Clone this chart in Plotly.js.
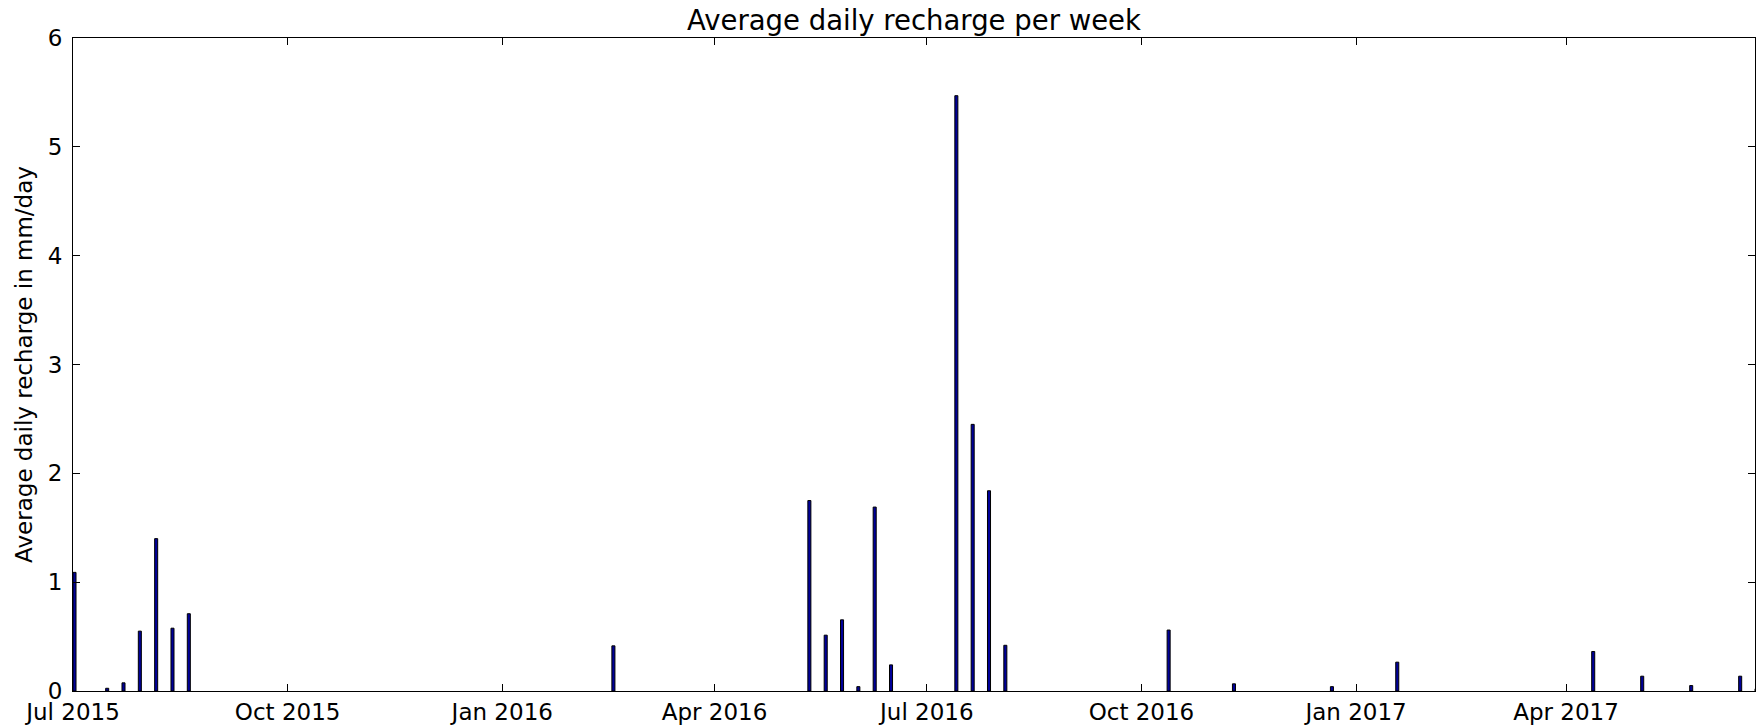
<!DOCTYPE html>
<html>
<head>
<meta charset="utf-8">
<script src="https://cdn.plot.ly/plotly-3.0.1.min.js"></script>
<style>
  html, body { margin: 0; padding: 0; background: #fff; }
  #chart { width: 1758px; height: 728px; }
</style>
</head>
<body>
<div id="chart"></div>
<script>
// Week start dates (weekly bars; weeks with zero recharge omitted)
const weekStart = [
  "2015-07-01", "2015-07-15", "2015-07-22", "2015-07-29", "2015-08-05", "2015-08-12", "2015-08-19",
  "2016-02-17",
  "2016-05-11", "2016-05-18", "2016-05-25", "2016-06-01", "2016-06-08", "2016-06-15",
  "2016-07-13", "2016-07-20", "2016-07-27", "2016-08-03",
  "2016-10-12", "2016-11-09", "2016-12-21", "2017-01-18",
  "2017-04-12", "2017-05-03", "2017-05-24", "2017-06-14", "2017-06-21"
];
// Average daily recharge (mm/day)
const recharge = [
  1.09, 0.025, 0.075, 0.55, 1.40, 0.577, 0.71,
  0.415,
  1.75, 0.513, 0.654, 0.04, 1.69, 0.24,
  5.47, 2.45, 1.84, 0.42,
  0.56, 0.066, 0.04, 0.265,
  0.363, 0.136, 0.05, 0.136, 0.02
];
const xTickStart = "2015-07-01";
const xRange = ["2015-07-01", "2017-06-21"];
const yRange = [0, 6];

const DAY = 86400000;
const font = "DejaVu Sans, Liberation Sans, sans-serif";

const trace = {
  type: "bar",
  x: weekStart,
  y: recharge,
  width: weekStart.map(() => 1.3 * DAY),
  offset: 0,
  marker: { color: "#000099", line: { color: "#000000", width: 1 } },
  hoverinfo: "x+y"
};

const layout = {
  width: 1758,
  height: 728,
  margin: { l: 73, r: 3, t: 38, b: 37, pad: 0 },
  paper_bgcolor: "#ffffff",
  plot_bgcolor: "#ffffff",
  showlegend: false,
  bargap: 0,
  font: { family: font, color: "#000000", size: 23 },
  title: {
    text: "Average daily recharge per week",
    font: { family: font, size: 27.5, color: "#000000" },
    x: 0.5, xref: "paper", xanchor: "center",
    y: 1, yref: "paper", yanchor: "bottom",
    pad: { b: 8 }
  },
  xaxis: {
    type: "date",
    range: xRange,
    tick0: xTickStart,
    dtick: "M3",
    tickformat: "%b %Y",
    ticks: "inside",
    ticklen: 7,
    tickcolor: "#000000",
    tickwidth: 1,
    showline: true,
    linecolor: "#000000",
    linewidth: 1,
    mirror: "ticks",
    showgrid: false,
    zeroline: false,
    tickfont: { family: font, size: 23, color: "#000000" },
    automargin: false
  },
  yaxis: {
    range: yRange,
    dtick: 1,
    tick0: 0,
    ticks: "inside",
    ticklen: 7,
    tickcolor: "#000000",
    tickwidth: 1,
    showline: true,
    linecolor: "#000000",
    linewidth: 1,
    mirror: "ticks",
    showgrid: false,
    zeroline: false,
    ticklabelstandoff: 5,
    tickfont: { family: font, size: 23, color: "#000000" },
    title: { text: "Average daily recharge in mm/day", font: { family: font, size: 23, color: "#000000" }, standoff: 8 },
    automargin: false
  }
};

Plotly.newPlot("chart", [trace], layout, { displayModeBar: false, staticPlot: true });
</script>
</body>
</html>
